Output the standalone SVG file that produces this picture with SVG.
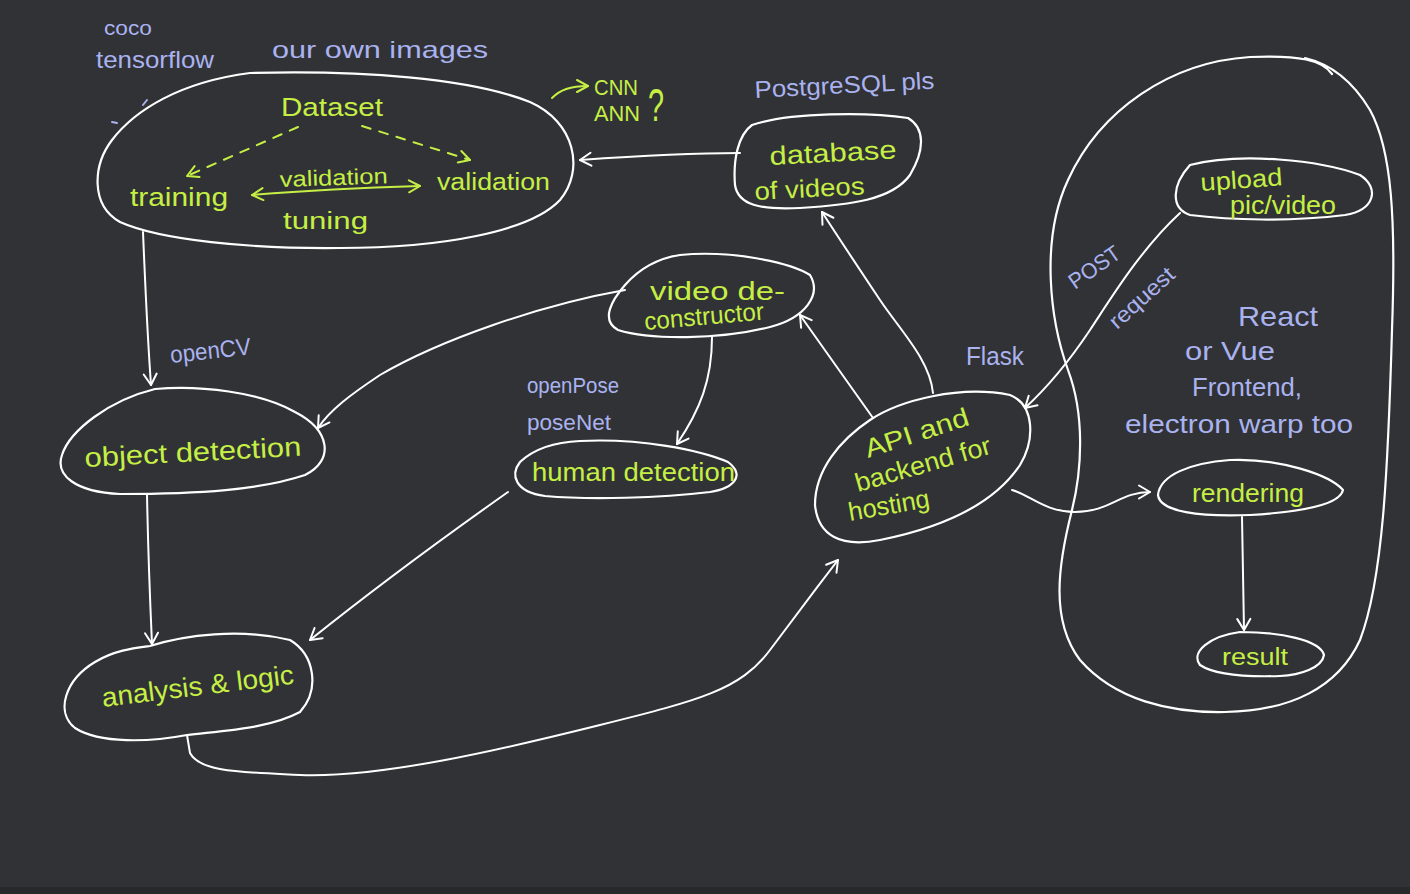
<svg xmlns="http://www.w3.org/2000/svg" width="1410" height="894" viewBox="0 0 1410 894">
<style>
.bg{fill:#313235}
.n{fill:none;stroke:#ffffff;stroke-width:2.2;stroke-linecap:round;stroke-linejoin:round}
.c{fill:none;stroke:#ffffff;stroke-width:2;stroke-linecap:round;stroke-linejoin:round}
.g{fill:none;stroke:#c6ef45;stroke-width:2;stroke-linecap:round;stroke-linejoin:round}
.gt{fill:#c6ef45;font-family:"Liberation Sans","DejaVu Sans",sans-serif}
.pt{fill:#aab2f0;font-family:"Liberation Sans","DejaVu Sans",sans-serif}
</style>
<defs>
<marker id="aw" viewBox="-13 -8 15 16" markerWidth="15" markerHeight="16" refX="0" refY="0" orient="auto-start-reverse" markerUnits="userSpaceOnUse">
<path d="M -11,-6.5 L 0,0 L -11,6.5" fill="none" stroke="#ffffff" stroke-width="2" stroke-linecap="round" stroke-linejoin="round"/>
</marker>
<marker id="ag" viewBox="-13 -8 15 16" markerWidth="15" markerHeight="16" refX="0" refY="0" orient="auto-start-reverse" markerUnits="userSpaceOnUse">
<path d="M -11,-6 L 0,0 L -11,6" fill="none" stroke="#c6ef45" stroke-width="2" stroke-linecap="round" stroke-linejoin="round"/>
</marker>
</defs>
<rect class="bg" x="0" y="0" width="1410" height="894"/>
<rect x="0" y="887" width="1410" height="7" fill="#28292b"/>

<!-- annotations -->
<g id="annotations">
<text class="pt" x="104" y="35" font-size="20" textLength="48" lengthAdjust="spacingAndGlyphs">coco</text>
<text class="pt" x="96" y="68" font-size="24" textLength="118" lengthAdjust="spacingAndGlyphs">tensorflow</text>
<text class="pt" x="272" y="58" font-size="24" textLength="216" lengthAdjust="spacingAndGlyphs">our own images</text>
<path d="M143,105 L147,100 M112,122 L117,123" fill="none" stroke="#aab2f0" stroke-width="2" stroke-linecap="round"/>
<text class="pt" x="755" y="98" font-size="24" textLength="180" lengthAdjust="spacingAndGlyphs" transform="rotate(-3 755 98)">PostgreSQL pls</text>
<text class="pt" x="171" y="363" font-size="24" textLength="81" lengthAdjust="spacingAndGlyphs" transform="rotate(-6 171 363)">openCV</text>
<text class="pt" x="527" y="393" font-size="22" textLength="92" lengthAdjust="spacingAndGlyphs">openPose</text>
<text class="pt" x="527" y="430" font-size="22" textLength="84" lengthAdjust="spacingAndGlyphs">poseNet</text>
<text class="pt" x="966" y="365" font-size="26" textLength="58" lengthAdjust="spacingAndGlyphs">Flask</text>
<text class="pt" x="1075" y="290" font-size="22" textLength="58" lengthAdjust="spacingAndGlyphs" transform="rotate(-35 1075 290)">POST</text>
<text class="pt" x="1117" y="330" font-size="22" textLength="80" lengthAdjust="spacingAndGlyphs" transform="rotate(-42 1117 330)">request</text>
<text class="pt" x="1238" y="326" font-size="28" textLength="80" lengthAdjust="spacingAndGlyphs">React</text>
<text class="pt" x="1185" y="360" font-size="26" textLength="90" lengthAdjust="spacingAndGlyphs">or Vue</text>
<text class="pt" x="1192" y="396" font-size="26" textLength="110" lengthAdjust="spacingAndGlyphs">Frontend,</text>
<text class="pt" x="1125" y="433" font-size="26" textLength="228" lengthAdjust="spacingAndGlyphs">electron warp too</text>
<text class="gt" x="594" y="95" font-size="22" textLength="44" lengthAdjust="spacingAndGlyphs">CNN</text>
<text class="gt" x="594" y="121" font-size="22" textLength="46" lengthAdjust="spacingAndGlyphs">ANN</text>
<text class="gt" x="648" y="121" font-size="46" textLength="16" lengthAdjust="spacingAndGlyphs">?</text>
</g>

<!-- big frontend loop -->
<g id="frontend-region">
<path class="n" d="M1332,74 C1322,60 1300,55 1250,57 C1170,62 1100,110 1068,180 C1040,240 1050,320 1068,370 C1085,415 1082,470 1072,510 C1058,565 1050,620 1080,660 C1115,700 1170,713 1225,712 C1290,711 1338,688 1360,640 C1383,580 1388,470 1392,330 C1396,220 1392,150 1370,110 C1355,85 1335,65 1305,58"/>
</g>

<!-- nodes -->
<g id="dataset">
<path class="n" d="M250,73 C360,70 470,78 530,102 C575,122 585,170 560,200 C530,232 440,248 340,248 C250,249 160,240 120,222 C90,205 93,165 112,140 C135,110 180,82 250,73 Z"/>
<text class="gt" x="281" y="116" font-size="26" textLength="102" lengthAdjust="spacingAndGlyphs">Dataset</text>
<text class="gt" x="130" y="206" font-size="25" textLength="98" lengthAdjust="spacingAndGlyphs">training</text>
<text class="gt" x="280" y="187" font-size="22" textLength="108" lengthAdjust="spacingAndGlyphs" transform="rotate(-2 280 187)">validation</text>
<text class="gt" x="437" y="190" font-size="23" textLength="113" lengthAdjust="spacingAndGlyphs">validation</text>
<text class="gt" x="283" y="229" font-size="23" textLength="85" lengthAdjust="spacingAndGlyphs">tuning</text>
<path class="g" d="M298,127 L187,176" stroke-dasharray="9 9" marker-end="url(#ag)"/>
<path class="g" d="M362,126 L470,160" stroke-dasharray="9 9" marker-end="url(#ag)"/>
<path class="g" d="M252,195 C300,191 350,188 420,186" marker-start="url(#ag)" marker-end="url(#ag)"/>
</g>

<g id="database">
<path class="n" d="M752,125 C790,112 870,112 908,118 C925,128 925,150 910,175 C892,200 850,205 800,208 C760,210 738,205 735,185 C733,160 738,135 752,125 Z"/>
<text class="gt" x="770" y="165" font-size="26" textLength="127" lengthAdjust="spacingAndGlyphs" transform="rotate(-3 770 165)">database</text>
<text class="gt" x="755" y="200" font-size="25" textLength="110" lengthAdjust="spacingAndGlyphs" transform="rotate(-3 755 200)">of videos</text>
</g>

<g id="video-deconstructor">
<path class="n" d="M680,255 C730,250 790,262 810,275 C822,295 805,318 770,327 C720,340 650,340 618,330 C600,320 612,300 625,285 C640,268 660,258 680,255 Z"/>
<text class="gt" x="650" y="300" font-size="25" textLength="135" lengthAdjust="spacingAndGlyphs">video de-</text>
<text class="gt" x="645" y="330" font-size="25" textLength="120" lengthAdjust="spacingAndGlyphs" transform="rotate(-5 645 330)">constructor</text>
</g>

<g id="human-detection">
<path class="n" d="M580,441 C640,438 700,450 728,462 C745,475 735,488 710,492 C660,498 590,500 545,496 C515,492 510,475 520,462 C535,448 555,442 580,441 Z"/>
<text class="gt" x="532" y="481" font-size="26" textLength="203" lengthAdjust="spacingAndGlyphs">human detection</text>
</g>

<g id="object-detection">
<path class="n" d="M155,389 C200,385 260,392 295,412 C330,430 335,460 305,475 C260,490 200,494 120,494 C75,492 55,475 62,455 C70,430 110,400 155,389 Z"/>
<text class="gt" x="85" y="467" font-size="27" textLength="217" lengthAdjust="spacingAndGlyphs" transform="rotate(-3 85 467)">object detection</text>
</g>

<g id="analysis-logic">
<path class="n" d="M150,646 C185,635 240,628 290,640 C315,655 320,690 300,712 C270,728 230,730 187,735 C150,742 100,744 75,728 C55,712 65,680 95,662 C115,650 135,648 150,646 Z"/>
<text class="gt" x="103" y="707" font-size="27" textLength="193" lengthAdjust="spacingAndGlyphs" transform="rotate(-7 103 707)">analysis &amp; logic</text>
</g>

<g id="api-backend">
<path class="n" d="M870,420 C900,400 960,385 1010,395 C1035,405 1035,440 1020,465 C990,510 930,530 880,540 C840,548 818,535 815,505 C815,470 840,440 870,420 Z"/>
<text class="gt" x="868" y="458" font-size="26" textLength="108" lengthAdjust="spacingAndGlyphs" transform="rotate(-18 868 458)">API and</text>
<text class="gt" x="858" y="492" font-size="26" textLength="140" lengthAdjust="spacingAndGlyphs" transform="rotate(-16 858 492)">backend for</text>
<text class="gt" x="850" y="521" font-size="26" textLength="82" lengthAdjust="spacingAndGlyphs" transform="rotate(-10 850 521)">hosting</text>
</g>

<g id="upload">
<path class="n" d="M1190,165 C1240,152 1320,160 1360,175 C1380,188 1375,210 1345,215 C1290,222 1230,220 1190,215 C1170,208 1172,185 1190,165 Z"/>
<text class="gt" x="1201" y="191" font-size="25" textLength="82" lengthAdjust="spacingAndGlyphs" transform="rotate(-4 1201 191)">upload</text>
<text class="gt" x="1230" y="214" font-size="25" textLength="106" lengthAdjust="spacingAndGlyphs">pic/video</text>
</g>

<g id="rendering">
<path class="n" d="M1230,460 C1280,458 1330,475 1343,490 C1340,505 1300,512 1250,515 C1200,517 1160,512 1158,495 C1160,475 1190,463 1230,460 Z"/>
<text class="gt" x="1192" y="502" font-size="25" textLength="112" lengthAdjust="spacingAndGlyphs">rendering</text>
</g>

<g id="result">
<path class="n" d="M1240,632 C1280,632 1320,640 1324,655 C1322,668 1300,675 1280,676 C1250,677 1215,675 1200,665 C1190,652 1210,636 1240,632 Z"/>
<text class="gt" x="1222" y="665" font-size="23" textLength="66" lengthAdjust="spacingAndGlyphs">result</text>
</g>

<!-- connectors -->
<g id="connectors">
<path class="c" d="M143,232 C145,280 147,330 151,385" marker-end="url(#aw)"/>
<path class="c" d="M147,494 C148,550 150,600 152,644" marker-end="url(#aw)"/>
<path class="c" d="M740,153 C700,153 650,155 580,160" marker-end="url(#aw)"/>
<path class="c" d="M625,290 C540,305 440,340 380,375 C350,395 330,410 318,428" marker-end="url(#aw)"/>
<path class="c" d="M712,337 C712,380 700,410 677,444" marker-end="url(#aw)"/>
<path class="c" d="M508,492 C440,540 360,600 310,640" marker-end="url(#aw)"/>
<path class="c" d="M187,735 L190,753 C200,772 240,772 300,775 C380,778 500,750 600,725 C700,700 740,690 770,650 C800,610 815,590 838,560" marker-end="url(#aw)"/>
<path class="c" d="M873,418 C850,385 825,350 800,315" marker-end="url(#aw)"/>
<path class="c" d="M933,393 C930,360 900,330 880,300 C860,270 840,240 822,212" marker-end="url(#aw)"/>
<path class="c" d="M1180,213 C1140,250 1110,300 1090,330 C1070,360 1050,385 1025,408" marker-end="url(#aw)"/>
<path class="c" d="M1012,490 C1030,495 1045,512 1075,512 C1110,512 1120,492 1150,492" marker-end="url(#aw)"/>
<path class="c" d="M1242,517 L1244,630" marker-end="url(#aw)"/>
<path class="g" d="M552,98 C560,90 570,86 588,86" marker-end="url(#ag)"/>
</g>
</svg>
